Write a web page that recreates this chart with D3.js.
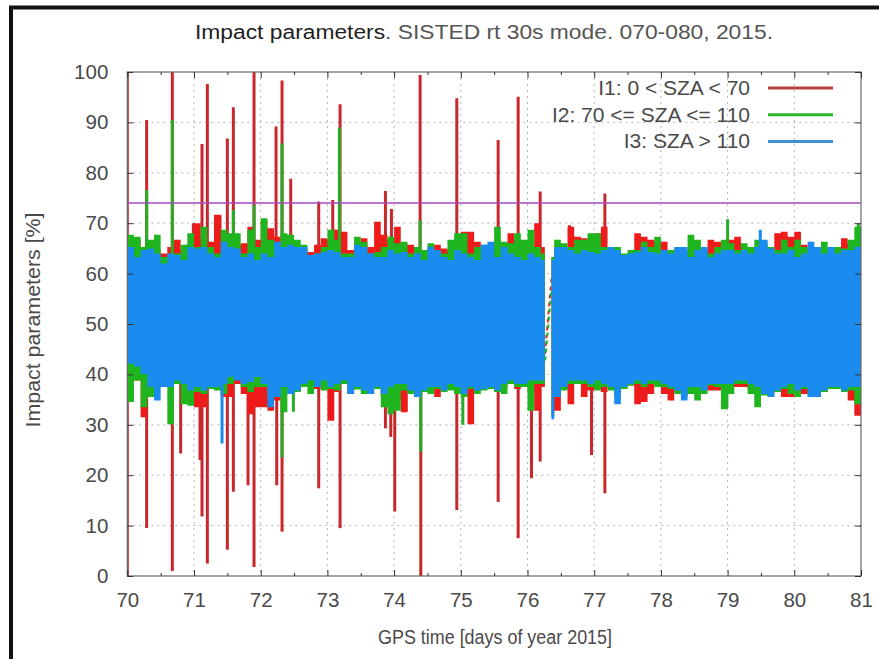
<!DOCTYPE html>
<html>
<head>
<meta charset="utf-8">
<script src="https://cdn.jsdelivr.net/npm/d3@7"></script>
<style>
  html, body { margin: 0; padding: 0; background: #fff; }
  svg { display: block; }
  text { font-family: "Liberation Sans", Arial, sans-serif; }
</style>
</head>
<body>
<svg id="chart" width="879" height="659"></svg>
<script>
// ---- data: 0.1-day bins starting at day 70, envelope (max / min) of each index ----
const dayStart = 70;
const binWidth = 0.1;
const gapDays = [76.26, 76.36];        // no data in this interval
const threshold = 74;                  // reference level [%]

const redHi = [66.7,66.7,65.3,65.3,64.7,64,65.3,66.7,64.7,65.3,70,67.3,66.3,71.7,66.7,65.7,65.7,66,69.3,66.7,
  70.7,69,67.3,65.3,66,65.3,65.3,64.3,65.7,67,66.7,68.7,68.3,64.7,65.3,67,65.3,70.3,67.7,66.7,
  69.3,66,65.7,65.3,64,64.7,65.7,65,64.7,66.7,68.3,68.3,66.3,65.3,64.7,66.7,65.3,68,66.7,65.3,
  65.3,70,65.3,63.3,64.7,64.7,69.3,67.3,67,66.7,68,69.3,64.7,64.3,63.7,64,68,67.3,66.7,66.3,
  66.3,64.3,64.7,64,64,64.7,64.7,66.7,66.3,65.3,66.7,67.3,65.3,64.7,65.3,65.3,64.7,68,68.3,67.3,
  68.3,65.7,64.7,64.7,64.7,64.7,64.7,67,66,65.3];
const redLo = [38.8,38.8,31.5,36.8,37.5,37.5,37.5,38.1,37.5,35.5,33.5,33.5,37.1,37.1,35.5,35.5,38.1,36.1,32.1,33.5,
  33.5,32.8,34.8,36.8,36.1,36.8,37.5,38.1,37.1,38.1,30.8,36.5,38.1,36.1,37.5,36.8,36.1,39.5,35.5,35.5,
  34.8,32.5,36.8,35.5,36.8,37.1,35.5,37,37.8,36.1,35.8,30.1,36.8,37.1,37.1,36.5,37.5,38.1,37.1,37.5,
  36.8,32.8,37.5,32,32.8,37.1,34.1,38.1,35.5,36.8,37.1,36.5,37.5,37.5,37.5,37.8,34.1,34.5,36.1,38.1,
  36.1,34.8,36.8,36.1,36.8,36.8,36.8,36.8,36.8,37.5,37.5,37.5,37.5,37.1,36.8,36.5,36.1,36.5,35.5,35.5,
  36.5,36.1,36.1,36.1,36.5,37.1,37.1,37.5,34.8,31.8];
const greenHi = [67.7,67.3,65.3,66.7,67.7,63.3,64,64,65.7,68,65.3,69.3,65.3,64,68.7,68,68,64,68.7,65.3,
  71,66.7,65.3,68,67.7,66.7,65.7,63.3,64,65.3,68.7,66.7,64,64,67.3,66.3,64,64.3,65.3,67.3,
  66,66.3,64,65.3,64.7,66,64.7,64,66.7,68,68,64,65.3,65.7,65.3,69.3,66.3,66,68,66.7,
  68.7,65.3,64,63.3,66.7,66,65.3,66.7,66.7,68,68,65.3,65.3,65.3,64,64.7,64.7,66.3,65.3,67.3,
  64.7,64.7,65,64.7,67.7,66.7,64.7,64,65.3,66.7,66,64.7,66,65.3,66.7,66,65.3,64.7,66.7,65.3,
  66.7,65.3,64.7,65,66.3,65,65.3,65,66.7,69.3];
const greenLo = [34.5,38.8,33.5,35.5,37.5,37.9,30.1,38.1,34.1,33.8,36.5,36.1,37.1,36.8,36.1,38.1,39,37.5,36.5,37.5,
  37.5,35.5,35.5,32.5,36.1,36.5,37.5,36.1,37.5,36.8,37.1,36.8,38.1,36.1,37,36.1,36.1,37.1,33.5,32.1,
  32.8,36.8,36.1,35.5,36.5,36.1,37.1,36.5,36.8,36.1,35.5,37.1,36.1,36.8,37.1,36.5,36.1,38.1,37.5,37.5,
  32.8,38.1,38.1,31.5,36.1,36.8,38.1,38.1,38.1,37.5,36.8,37.5,36.8,35.5,37.1,37.8,38.1,37.5,38.1,37.5,
  37.5,37.1,36.1,35.5,36.1,34.8,36.1,37.8,37.5,33.1,36.1,38.1,38.1,36.1,33.5,35.8,35.5,36.5,37.1,36.1,
  35.5,37.1,35.5,35.5,36.5,37.1,37.1,36.5,36.8,34.1];
const blueHi = [65.3,63.3,64.7,65,64,62,64,63.7,62.7,65.3,65,65.3,64,63.3,66.3,65.3,65,63.3,64,62.7,
  64,63.3,66.3,65.3,65.7,65.3,65.3,63.7,64,64.3,64.7,64.3,63.3,63.3,65.7,65.3,64,63.3,63.3,64.7,
  64,64.3,63.3,64,62.7,65.3,64.7,63.3,62.7,64.7,64,63.3,62.7,65.7,66.3,63.3,65.3,64,63.3,62.7,
  64,63.3,62.7,62.7,65.3,65.3,64.7,64,64.7,64.3,64,64.7,65.3,64.7,63.7,64,64.3,65.3,64.3,64,
  64.7,64,65.3,65.3,63.3,64.7,65.3,63.3,64,64.7,64.7,64,64.7,64,65.3,66.7,65,64,64,64.7,
  63.3,64,66.3,65.3,64,65.3,64,64.7,64.7,65.3];
const blueLo = [42.1,41.5,40.1,37.5,34.8,37.5,37.5,38.8,38.1,36.8,37.5,36.8,37.5,37.5,38.1,39.5,38.8,38.1,38.5,39.5,
  38.1,33.5,35.5,37.5,36.1,36.8,38.1,38.8,37.5,38.8,37.5,38.1,38.8,36.1,37.5,36.8,36.1,37.5,36.1,37.5,
  38.1,38.1,36.8,35.5,36.8,37.5,37.5,36.8,38.1,37.5,36.1,37.5,36.8,37.1,37.5,36.8,38.1,38.8,38.1,38.1,
  38.8,38.8,38.8,31.1,35.5,37.5,38.8,38.8,38.8,38.1,38.8,38.1,37.5,34.1,37.5,38.1,38.8,38.1,38.8,38.8,
  38.1,37.5,36.8,34.8,37.5,37.5,36.8,38.1,38.1,38.1,38.1,38.8,38.8,38.1,37.5,36.1,35.5,36.8,37.5,38.1,
  36.8,37.5,35.5,35.5,36.8,37.5,37.5,36.8,37.5,37.5];

// single-sample excursions: [day, value]
const redSpikes = [[70.0,100],[70.29,90.5],[70.675,100],[70.99,70],[71.12,85.7],[71.2,97.6],[71.39,71.6],[71.5,86.8],
  [71.59,93],[71.9,100],[72.23,89.2],[72.32,98.3],[72.45,78.8],[72.87,74.3],[73.08,74.6],[73.19,93.6],
  [73.87,76.4],[73.96,72.8],[74.39,99.4],[74.94,94.8],[75.56,86.5],[75.86,95.1],[76.19,76.3],[76.63,69.6],
  [77.16,75.9],
  [70.0,0],[70.29,9.5],[70.675,1],[70.8,24.3],[71.09,23],[71.12,11.8],[71.2,2.5],[71.5,5.2],[71.59,16.7],
  [71.81,18],[71.9,1.8],[72.04,33.6],[72.24,18],[72.32,8.8],[72.87,17.4],[73.08,31],[73.19,9.5],
  [73.87,29.3],[73.95,27.6],[74.01,12.8],[74.18,32.6],[74.4,0],[74.94,13.1],[75.14,31],[75.56,14.7],
  [75.86,7.5],[76.06,19.4],[76.19,22.7],[76.96,24],[77.16,16.4],[80.96,32]];
const greenSpikes = [[70.29,76.6],[70.675,90.5],[71.59,72.6],[71.9,73.6],[72.32,85.8],[73.18,89],[74.39,70.6],
  [79.0,70.8],[80.96,70],
  [70.675,30.1],[72.32,23.5],[72.49,32.6],[74.4,24.7],[75.03,30],[78.99,33.3]];
const blueSpikes = [[71.42,26.3],[79.49,68.7]];
// straight segments drawn across the data gap: [value before, value after]
const gapLinks = { red: [44, 59], green: [42, 57] };

const seriesNames = ["I1: 0 < SZA < 70", "I2: 70 <= SZA <= 110", "I3: SZA > 110"];
const xTicks = [70,71,72,73,74,75,76,77,78,79,80,81];
const yTicks = [0,10,20,30,40,50,60,70,80,90,100];

// ---- drawing ----
const colors = { red: "#ee1b1b", green: "#1fb51f", blue: "#1a8cf0" };
const spikeColors = { red: "#c8282c", green: "#25ad25", blue: "#1a8cf0" };
const legendColors = ["#b8403e", "#2ab42a", "#3b8fd6"];

const svg = d3.select("#chart");
const W = 879, H = 659;
const plot = { left: 127.3, right: 861, top: 72, bottom: 576 };

const x = d3.scaleLinear().domain([70, 81]).range([plot.left, plot.right]);
const y = d3.scaleLinear().domain([0, 100]).range([plot.bottom, plot.top]);

svg.append("rect").attr("width", W).attr("height", H).attr("fill", "#fff");
// outer frame
svg.append("path").attr("d", `M11,${H} L11,7.5 L${W},7.5`).attr("fill", "none")
  .attr("stroke", "#111").attr("stroke-width", 4);

const clipId = "plotclip";
svg.append("clipPath").attr("id", clipId).append("rect")
  .attr("x", plot.left).attr("y", plot.top)
  .attr("width", plot.right - plot.left).attr("height", plot.bottom - plot.top);

// grid
const grid = svg.append("g").attr("stroke", "#b5b5b5").attr("stroke-width", 1)
  .attr("stroke-dasharray", "2,4");
xTicks.slice(1, -1).forEach(t => grid.append("line")
  .attr("x1", x(t)).attr("x2", x(t)).attr("y1", plot.top).attr("y2", plot.bottom));
yTicks.slice(1, -1).forEach(t => grid.append("line")
  .attr("x1", plot.left).attr("x2", plot.right).attr("y1", y(t)).attr("y2", y(t)));

const data = svg.append("g").attr("clip-path", `url(#${clipId})`);

function segments(hi, lo) {
  const pts = hi.map((h, i) => ({ d: dayStart + i * binWidth, hi: h, lo: lo[i] }));
  const a = pts.filter(p => p.d < gapDays[0]);
  const b = pts.filter(p => p.d + binWidth > gapDays[1]);
  const segA = [...a, { ...a[a.length - 1], d: gapDays[0] }];
  const segB = [{ ...b[0], d: gapDays[1] }, ...b.slice(1), { ...b[b.length - 1], d: 81 }];
  return [segA, segB];
}

const area = d3.area().curve(d3.curveStepAfter)
  .x(p => x(p.d)).y0(p => y(p.lo)).y1(p => y(p.hi));

function drawSeries(key, hi, lo, spikes) {
  const g = data.append("g");
  g.selectAll("line.spike").data(spikes).join("line").attr("class", "spike")
    .attr("x1", s => x(s[0])).attr("x2", s => x(s[0]))
    .attr("y1", y(50)).attr("y2", s => y(s[1]))
    .attr("stroke", spikeColors[key]).attr("stroke-width", 3);
  g.selectAll("path.band").data(segments(hi, lo)).join("path").attr("class", "band")
    .attr("d", area).attr("fill", colors[key]);
  if (gapLinks[key]) {
    g.append("line")
      .attr("x1", x(gapDays[0])).attr("y1", y(gapLinks[key][0]))
      .attr("x2", x(gapDays[1])).attr("y2", y(gapLinks[key][1]))
      .attr("stroke", colors[key]).attr("stroke-width", 2)
      .attr("stroke-dasharray", "4,4")
      .attr("stroke-dashoffset", key === "red" ? 0 : 4);
  }
}

drawSeries("red", redHi, redLo, redSpikes);
drawSeries("green", greenHi, greenLo, greenSpikes);
drawSeries("blue", blueHi, blueLo, blueSpikes);

// reference level
svg.append("line").attr("x1", plot.left).attr("x2", plot.right)
  .attr("y1", y(threshold)).attr("y2", y(threshold))
  .attr("stroke", "#a948c4").attr("stroke-width", 1.6);

// axes: frame and inward ticks on all four sides
const axisColor = "#6a6a6a";
svg.append("rect").attr("x", plot.left).attr("y", plot.top)
  .attr("width", plot.right - plot.left).attr("height", plot.bottom - plot.top)
  .attr("fill", "none").attr("stroke", axisColor).attr("stroke-width", 1.2);

const fmt = d3.format("d");
const bottomAxis = d3.axisBottom(x).tickValues(xTicks).tickSizeInner(-6).tickSizeOuter(0).tickFormat(fmt);
const topAxis = d3.axisTop(x).tickValues(xTicks).tickSizeInner(-6).tickSizeOuter(0).tickFormat("");
const leftAxis = d3.axisLeft(y).tickValues(yTicks).tickSizeInner(-6).tickSizeOuter(0).tickFormat(fmt);
const rightAxis = d3.axisRight(y).tickValues(yTicks).tickSizeInner(-6).tickSizeOuter(0).tickFormat("");
const minorX = d3.range(70.5, 81, 1);

function styleAxis(g) {
  g.select(".domain").remove();
  g.selectAll(".tick line").attr("stroke", "#333").attr("stroke-width", 1);
  g.selectAll("text").attr("fill", "#4a4a4a").attr("font-size", 20.5);
}
svg.append("g").attr("transform", `translate(0,${plot.bottom})`).call(bottomAxis).call(styleAxis)
  .selectAll("text").attr("dy", null).attr("y", 31);
svg.append("g").attr("transform", `translate(0,${plot.top})`).call(topAxis).call(styleAxis);
svg.append("g").attr("transform", `translate(${plot.left},0)`).call(leftAxis).call(styleAxis)
  .selectAll("text").attr("x", -19);
svg.append("g").attr("transform", `translate(${plot.right},0)`).call(rightAxis).call(styleAxis);
svg.append("g").attr("transform", `translate(0,${plot.bottom})`)
  .call(d3.axisBottom(x).tickValues(minorX).tickSizeInner(-3).tickSizeOuter(0).tickFormat(""))
  .call(styleAxis);
svg.append("g").attr("transform", `translate(0,${plot.top})`)
  .call(d3.axisTop(x).tickValues(minorX).tickSizeInner(-3).tickSizeOuter(0).tickFormat(""))
  .call(styleAxis);

// titles
const title = svg.append("text").attr("x", 484).attr("y", 39).attr("text-anchor", "middle")
  .attr("font-size", 20).attr("textLength", 578).attr("lengthAdjust", "spacingAndGlyphs");
title.append("tspan").attr("fill", "#1e1e1e").text("Impact parameters");
title.append("tspan").attr("fill", "#555").text(". SISTED rt 30s mode. 070-080, 2015.");

svg.append("text").attr("x", 495).attr("y", 644).attr("text-anchor", "middle")
  .attr("font-size", 19.5).attr("fill", "#4a4a4a")
  .attr("textLength", 234).attr("lengthAdjust", "spacingAndGlyphs")
  .text("GPS time [days of year 2015]");
svg.append("text").attr("transform", "translate(40,320) rotate(-90)").attr("text-anchor", "middle")
  .attr("font-size", 20.5).attr("fill", "#4a4a4a")
  .attr("textLength", 215).attr("lengthAdjust", "spacingAndGlyphs")
  .text("Impact parameters [%]");

// legend
const legend = svg.append("g");
seriesNames.forEach((name, i) => {
  const cy = 88 + i * 26.7;
  legend.append("text").attr("x", 750).attr("y", cy + 7).attr("text-anchor", "end")
    .attr("font-size", 21).attr("fill", "#4a4a4a").text(name);
  legend.append("line").attr("x1", 768).attr("x2", 833).attr("y1", cy).attr("y2", cy)
    .attr("stroke", legendColors[i]).attr("stroke-width", 3);
});
</script>
</body>
</html>
